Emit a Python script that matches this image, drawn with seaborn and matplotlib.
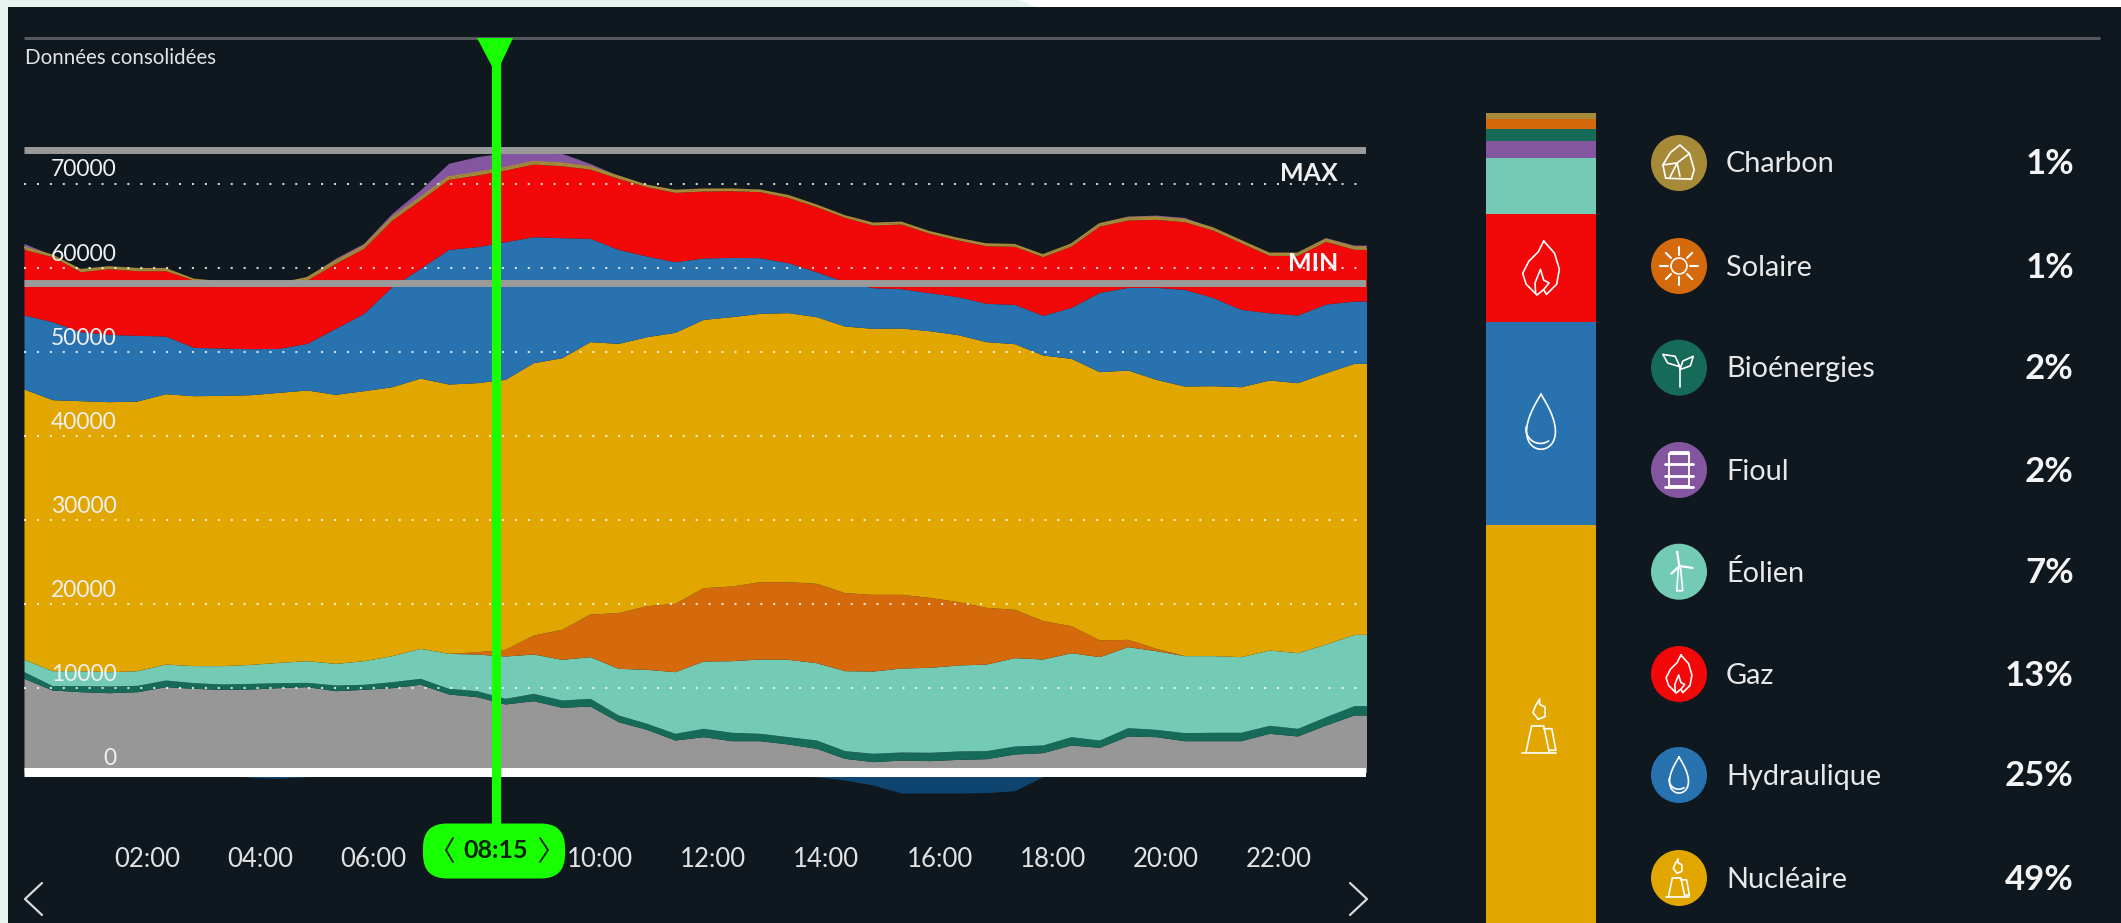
import numpy as np
import seaborn as sns
import matplotlib
matplotlib.use("Agg")
import matplotlib.pyplot as plt
from matplotlib.patches import Rectangle, FancyBboxPatch, Polygon, Circle
from matplotlib.transforms import ScaledTranslation

# ---------- data (MW, upper edge of each stacked layer, every 30 min) ----------
heures = [i / 2 for i in range(48)]
bord_gris = [11190,9800,9600,9480,9600,10200,10000,9880,9920,10080,10200,9720,9880,10080,10480,9330,9010,8140,8530,7740,7900,6030,5120,3850,
             4250,3770,3770,3380,2860,1670,1280,1470,1400,1550,1630,2190,2350,3260,2980,4330,4250,3770,3770,3770,4650,4330,5640,6830]
bord_bio = [11980,10320,10320,10280,10360,10990,10670,10520,10590,10670,10710,10400,10480,10790,11190,10000,9720,8810,9400,8610,8810,6830,5840,4650,
            5240,4770,4650,4250,3850,2590,2270,2430,2390,2550,2590,3140,3260,4250,3850,5320,5120,4730,4770,4770,5600,5240,6630,7940]
bord_eolien = [13450,12100,12100,11980,12100,12890,12700,12700,12850,13090,13290,12970,13290,13890,14760,14160,14080,13850,14080,13450,13770,12380,12260,11980,
               13250,13290,13490,13450,13050,12100,12060,12420,12500,12780,12890,13650,13490,14240,13770,14960,14480,13890,13890,13770,14560,14240,15270,16420]
bord_solaire = [13450,12100,12100,11980,12100,12890,12700,12700,12850,13090,13290,12970,13290,13890,14760,14160,14360,14640,16340,17020,18840,19000,19830,20110,
                21970,22170,22690,22690,22490,21380,21180,21180,20820,20310,19630,19400,18050,17450,15750,15830,14760,13890,13890,13770,14560,14240,15270,16420]
bord_nucleaire = [45610,44340,44220,44100,44180,45050,44810,44850,44930,45210,45490,44970,45410,45880,46910,46200,46360,46760,48740,49330,51240,51040,51830,52350,
                  53890,54210,54610,54690,54210,53100,52820,52860,52540,52070,51240,51000,49650,49250,47670,47870,46760,45960,46000,45880,46680,46360,47550,48660]
bord_hydro = [54410,53620,52430,52110,51990,51910,50560,50480,50400,50440,51040,52820,54600,57780,59960,62220,62540,63130,63730,63610,63530,62220,61430,60750,
              61190,61270,61230,60630,59560,58370,57660,57540,57060,56590,55800,55680,54370,55320,57100,57700,57700,57460,56510,55080,54680,54410,55720,56070]
bord_gaz = [62220,61350,59560,59920,59680,59680,58570,58250,57940,58060,58570,60550,62340,65710,68090,70550,71060,71660,72370,72170,71770,70660,69670,69000,
            69160,69200,69080,68400,67290,66030,65110,65230,64120,63330,62650,62580,61350,62610,64990,65710,65790,65510,64520,63010,61500,61500,63170,62220]
charbon = [260,170,230,200,230,230,70,80,70,70,260,260,260,270,270,280,280,280,280,280,270,260,160,220,
           200,170,170,200,180,160,200,190,180,170,190,190,200,210,240,270,260,260,240,230,240,240,260,260]
bord_total = [62930,61550,59840,60160,59960,59960,58650,58340,58020,58140,58970,61150,62930,66500,69280,72450,73240,73720,73950,73640,72450,70980,69870,69280,
              69400,69400,69280,68680,67490,66220,65390,65510,64320,63530,62930,62850,61620,62850,65390,66180,66300,66020,64840,63330,61820,61820,63610,62730]
pompage = [0,0,0,0,0,0,0,0,-600,-700,-500,0,0,0,0,0,0,0,0,0,0,0,0,0,
           0,0,0,-300,-520,-900,-1500,-2450,-2450,-2450,-2400,-2180,-500,0,0,0,0,0,0,0,0,0,0,0]

niveau_max = 74040
niveau_min = 58220
graduations = [0, 10000, 20000, 30000, 40000, 50000, 60000, 70000]
heures_labels = ["02:00","04:00","06:00","10:00","12:00","14:00","16:00","18:00","20:00","22:00"]
heures_ticks = [2, 4, 6, 10, 12, 14, 16, 18, 20, 22]
heure_curseur = 8.34

filieres = ["Charbon","Solaire","Bioénergies","Fioul","Éolien","Gaz","Hydraulique","Nucléaire"]
parts = ["1%","1%","2%","2%","7%","13%","25%","49%"]
parts_barre = [0.78,1.19,1.48,2.17,6.9,13.2,25.05,49.2]

# ---------- colours ----------
FOND="#10181f"; JAUNE="#e2a600"; BLEU="#2872b0"; ROUGE="#f20808"; ORANGE="#d56a0d"; TURQ="#73cbb6"
VERT="#166a58"; GRIS="#979797"; VIOLET="#84569f"; OR="#a78a38"; BLEU_F="#0e4570"; FLUO="#17ff00"; BAR="#9a9a9a"
couleurs = [OR,ORANGE,VERT,VIOLET,TURQ,ROUGE,BLEU,JAUNE]

sns.set_theme(style="dark", rc={"axes.facecolor":"none","figure.facecolor":FOND,"text.color":"#ececec",
                                "xtick.color":"#e2e2e2","ytick.color":"#f0f0f0"})
plt.rcParams["font.family"] = ["Lato","DejaVu Sans"]

W, H = 2121, 923
fig = plt.figure(figsize=(W/100, H/100), dpi=100, facecolor=FOND)

# background strips and layout overlay (pixel coordinates)
bgx = fig.add_axes([0,0,1,1], zorder=0); bgx.set_xlim(0,W); bgx.set_ylim(H,0); bgx.axis("off")
bgx.add_patch(Rectangle((0,0),W,7,color="white",lw=0))
bgx.add_patch(Polygon([(0,0),(1020,0),(1035,7),(0,7)],color="#e6f3ee",lw=0))
bgx.add_patch(Rectangle((0,0),8,H,color="#e6f3ee",lw=0))
bgx.plot([24,2100],[38,38],color="#55595d",lw=2.2,solid_capstyle="butt")
bgx.text(25,58.5,"Données consolidées",fontsize=14.8,va="center",ha="left",color="#e4e4e4")

# main chart
AX_T, AX_B, AX_L, AX_R = 100, 800, 24, 1366
ax = fig.add_axes([AX_L/W, 1-AX_B/H, (AX_R-AX_L)/W, (AX_B-AX_T)/H], zorder=1)
ax.set_xlim(0, (AX_R-AX_L)/56.6)
ax.set_ylim((772.4-AX_B)*118.96, (772.4-AX_T)*118.96)
for s in ax.spines.values(): s.set_visible(False)
ax.grid(False)

def etend(v):  # last sample is held to the right edge of the plot
    return np.array(list(v)+[v[-1]], dtype=float)
t = np.array(heures+[24.0])
gr, bi, eo, so, nu, hy, ga, to = map(etend,(bord_gris,bord_bio,bord_eolien,bord_solaire,bord_nucleaire,bord_hydro,bord_gaz,bord_total))
ch = np.minimum(ga+etend(charbon), to)
ax.fill_between(t, etend(pompage), 0, color=BLEU_F, lw=0, zorder=1)
for bas,haut,c in [(0*gr,gr,GRIS),(gr,bi,VERT),(bi,eo,TURQ),(eo,so,ORANGE),(so,nu,JAUNE),(nu,hy,BLEU),(hy,ga,ROUGE),(ga,ch,OR),(ch,to,VIOLET)]:
    ax.fill_between(t, bas, haut, color=c, lw=0, zorder=2)
sns.lineplot(x=t, y=ch, color=OR, lw=1.2, ax=ax, zorder=2.5, estimator=None, errorbar=None)

ax.set_yticks(graduations)
ax.set_yticklabels([str(g) for g in graduations], fontsize=16.5)
ax.tick_params(axis="y", length=0, pad=0)
dec_y = ScaledTranslation(0.926, 0.16, fig.dpi_scale_trans)
for l in ax.get_yticklabels():
    l.set_transform(l.get_transform()+dec_y); l.set_zorder(6); l.set_clip_on(False)
    l.set_color("#f0f0f0")
ax.set_axisbelow(False)
for g in graduations[1:]:
    ax.axhline(g, color="white", alpha=.8, lw=1.5, ls=(0,(1.0,5.2)), zorder=3)
ax.axhline(0, color="white", lw=6.5, solid_capstyle="butt", zorder=4)
ax.axhline(niveau_max, color=BAR, lw=5, solid_capstyle="butt", zorder=4)
ax.axhline(niveau_min, color=BAR, lw=5, solid_capstyle="butt", zorder=4)
ax.set_xticks([h+0.177 for h in heures_ticks])
ax.set_xticklabels(heures_labels, fontsize=18.5)
ax.tick_params(axis="x", length=0, pad=34)
ax.set_xlabel(""); ax.set_ylabel("")
ax.text(1338, 173.5, "MAX", transform=bgx.transData, ha="right", va="center", fontsize=18, color="#f0f0f0", zorder=6, fontweight="bold")
ax.text(1338, 263.5, "MIN", transform=bgx.transData, ha="right", va="center", fontsize=18, color="#f8f8f8", zorder=6, fontweight="bold")

# stacked share bar (drawn from the longest cumulative share down)
axb = fig.add_axes([1485.6/W, 1-925/H, (1596-1485.6)/W, (925-112.7)/H], zorder=1)
cumul = np.cumsum(parts_barre[::-1])[::-1]
for val, c in zip(cumul, couleurs):
    sns.barplot(x=["mix"], y=[val], color=c, saturation=1, width=1, ax=axb, lw=0)
axb.set_xlim(-.5,.5); axb.set_ylim(0, cumul[0]); axb.axis("off")

# overlay: cursor, legend, icons
ov = fig.add_axes([0,0,1,1], zorder=5); ov.set_xlim(0,W); ov.set_ylim(H,0); ov.axis("off"); ov.patch.set_alpha(0)
cx = AX_L + heure_curseur*56.6
ov.plot([cx,cx],[38,830],color=FLUO,lw=6.6,solid_capstyle="butt")
ov.add_patch(Polygon([(cx-19,38),(cx+17,38),(cx,74)],color=FLUO,lw=0))
ov.add_patch(FancyBboxPatch((423,823.5),142,55,boxstyle="round,pad=0,rounding_size=24",color=FLUO,lw=0))
ov.text(cx,850.5,"08:15",ha="center",va="center",fontsize=18,fontweight="bold",color="#06220a")
ov.plot([453,446,453],[838,850,862],color="#06220a",lw=1.3)
ov.plot([540,548,540],[838,850,862],color="#06220a",lw=1.3)
ov.plot([42,25,42],[883,899,915],color="#d8d8d8",lw=1.6)
ov.plot([1350,1367,1350],[883,899,915],color="#d8d8d8",lw=1.6)

def ligne(pts, x, y, s, closed=False, lw=1.2, c="white"):
    p = np.array(pts, dtype=float)
    if closed: p = np.vstack([p,p[:1]])
    ov.plot(x+p[:,0]*s, y+p[:,1]*s, color=c, lw=lw, solid_joinstyle="round", solid_capstyle="round")

def flamme(x,y,s):
    ligne([(0.1,-1),(.5,-.55),(.68,.05),(.58,.6),(.2,.98),(.1,.8),(-.15,1),(-.55,.6),(-.68,.2),(-.45,-.25),(-.1,-.6)],x,y,s,True)
    ligne([(-.2,.95),(-.22,.55),(-.02,.05),(.1,.45),(.3,.55),(.1,.8)],x,y,s)
def goutte(x,y,s):
    a=np.linspace(0,2*np.pi,50)
    ligne(np.c_[.66*np.sin(a)*np.abs(np.sin(a/2))**1.1, -np.cos(a)*.95-.0],x,y,s)
    a=np.linspace(-1.4,.9,20)
    ligne(np.c_[-.02+.5*np.sin(a-.3),.25+.5*np.cos(a-.3)],x,y,s)
def centrale(x,y,s):
    ligne([(-.55,.95),(-.35,.0),(.1,.0),(.3,.95)],x,y,s)
    ligne([(.1,.1),(.4,.1),(.55,.9),(.3,.9)],x,y,s)
    ligne([(-.7,1),(.55,1)],x,y,s)
    ligne([(-.1,-.25),(-.3,-.5),(-.2,-.75),(-.05,-1),(-.05,-.8),(.15,-.7),(.15,-.35)],x,y,s,True)
def rocher(x,y,s):
    ligne([(-.7,.8),(-.85,.1),(-.45,-.55),(.05,-.95),(.55,-.5),(.8,.35),(.65,.85)],x,y,s,True)
    ligne([(-.5,.8),(-.1,.0),(.55,-.5)],x,y,s); ligne([(-.85,.1),(-.1,0),(.05,.7)],x,y,s)
def soleil(x,y,s):
    ov.add_patch(Circle((x,y),.42*s,fill=False,ec="white",lw=1.2))
    for a in np.arange(8)*np.pi/4:
        ligne([(.6*np.cos(a),.6*np.sin(a)),(.98*np.cos(a),.98*np.sin(a))],x,y,s,lw=1.5)
def pousse(x,y,s):
    ligne([(.05,1),(.05,-.05)],x,y,s)
    ligne([(.05,-.05),(-.2,-.6),(-.85,-.7),(-.6,-.25),(.05,-.05)],x,y,s)
    ligne([(.05,.1),(.2,-.35),(.75,-.6),(.6,-.1),(.05,.1)],x,y,s)
def baril(x,y,s):
    ligne([(-.55,-.85),(.55,-.85),(.55,.85),(-.55,.85)],x,y,s,True,lw=1.4)
    ligne([(-.75,-.3),(.75,-.3)],x,y,s,lw=2); ligne([(-.75,.3),(.75,.3)],x,y,s,lw=2)
    ligne([(-.75,.9),(.75,.9)],x,y,s,lw=2); ligne([(-.45,-.95),(.45,-.95)],x,y,s,lw=2)
def eolienne(x,y,s):
    ligne([(-.12,1),(-.03,-.2),(.08,-.2),(.2,1)],x,y,s,True)
    ligne([(.02,-.3),(-.1,-1.05)],x,y,s,lw=1.6); ligne([(.02,-.3),(.7,-.2)],x,y,s,lw=1.6); ligne([(.02,-.3),(-.4,.1)],x,y,s,lw=1.6)

icones = [rocher,soleil,pousse,baril,eolienne,flamme,goutte,centrale]
ys = [163,266,367.7,470,571.7,674,775,878]
for nom,pct,c,y,ic in zip(filieres,parts,couleurs,ys,icones):
    ov.add_patch(Circle((1679,y),28,color=c,lw=0))
    ic(1679,y,19)
    ov.text(1726,y+1.5,nom,ha="left",va="center",fontsize=20.8,color="#e8e8e8")
    ov.text(2074,y+1.5,pct,ha="right",va="center",fontsize=25,fontweight="bold",color="#f4f4f4")
flamme(1541,268,27); goutte(1541,421.7,29); centrale(1541,726,27)

fig.savefig("out.png", dpi=100, facecolor=FOND)
